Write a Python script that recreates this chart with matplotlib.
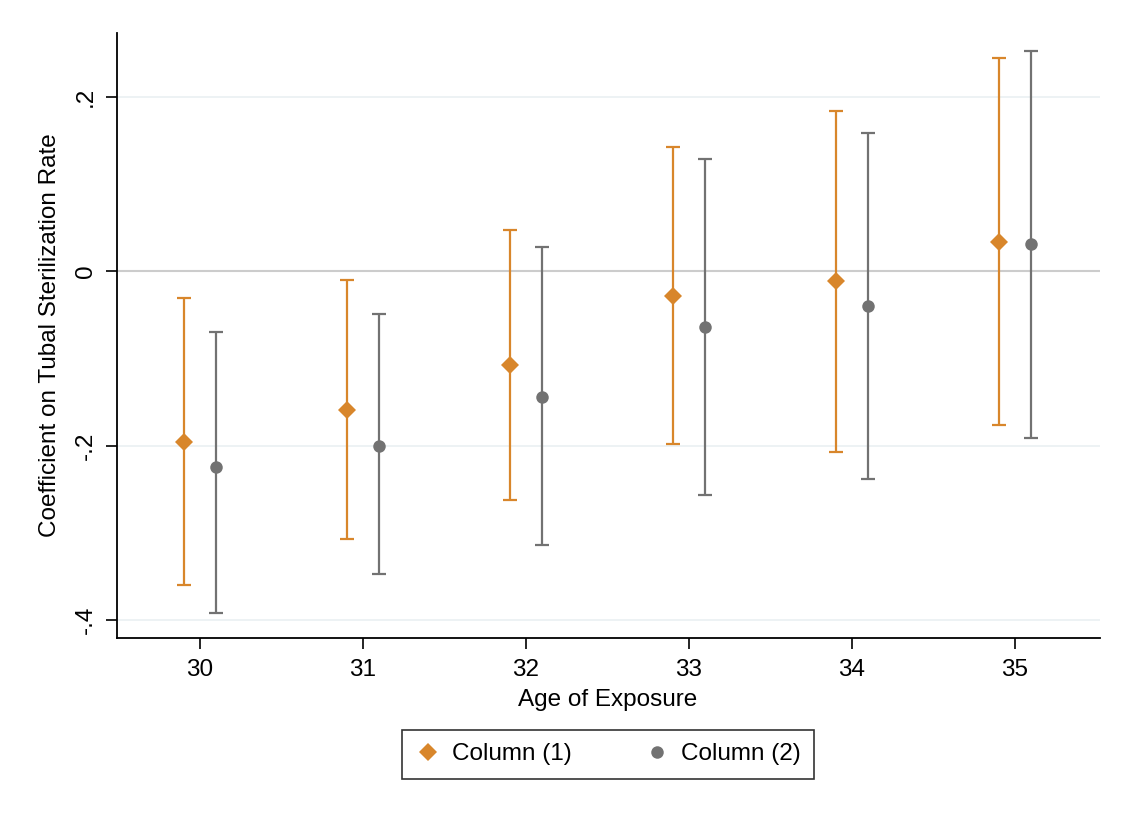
import matplotlib
matplotlib.use("Agg")
import matplotlib.pyplot as plt
import numpy as np

ORANGE = "#d8862b"
GRAY = "#727272"
GRID = "#eaf0f2"
ZERO = "#cccccc"

ages = [30, 31, 32, 33, 34, 35]

col1_coef = [-0.196, -0.159, -0.107, -0.028, -0.011, 0.034]
col1_lo = [-0.360, -0.307, -0.263, -0.198, -0.207, -0.176]
col1_hi = [-0.031, -0.010, 0.048, 0.143, 0.184, 0.245]

col2_coef = [-0.225, -0.200, -0.144, -0.064, -0.040, 0.031]
col2_lo = [-0.392, -0.348, -0.314, -0.257, -0.239, -0.191]
col2_hi = [-0.070, -0.049, 0.028, 0.129, 0.159, 0.253]

yticks = [-0.4, -0.2, 0, 0.2]
ytick_labels = ["-.4", "-.2", "0", ".2"]

FS = 17.5
plt.rcParams.update({"font.family": ["Liberation Sans", "DejaVu Sans"], "font.size": FS})

fig = plt.figure(figsize=(11.22, 8.21), dpi=100)
ax = fig.add_axes([0.104, 0.223, 0.876, 0.737])

for y in yticks:
    if y != 0:
        ax.axhline(y, color=GRID, linewidth=1.2, zorder=0)
ax.axhline(0, color=ZERO, linewidth=1.5, zorder=0)

x = np.array(ages, dtype=float)


def draw(xs, coef, lo, hi, color, marker, ms, label):
    coef = np.array(coef)
    err = [coef - np.array(lo), np.array(hi) - coef]
    ax.errorbar(xs, coef, yerr=err, fmt="none", ecolor=color, elinewidth=1.6,
                capsize=5, capthick=1.6, zorder=2)
    ax.plot(xs, coef, linestyle="none", marker=marker, markersize=ms,
            color=color, markeredgewidth=0, label=label, zorder=3)


draw(x - 0.1, col1_coef, col1_lo, col1_hi, ORANGE, "D", 9.5, "Column (1)")
draw(x + 0.1, col2_coef, col2_lo, col2_hi, GRAY, "o", 9, "Column (2)")

ax.set_xlim(29.49, 35.52)
ax.set_ylim(-0.421, 0.274)
ax.set_xticks(ages)
ax.set_xticklabels([str(a) for a in ages])
ax.set_yticks(yticks)
ax.set_yticklabels(ytick_labels, rotation=90, va="center")

for side in ["top", "right"]:
    ax.spines[side].set_visible(False)
for side in ["left", "bottom"]:
    ax.spines[side].set_linewidth(1.3)
    ax.spines[side].set_color("black")
ax.tick_params(axis="both", direction="out", length=8, width=1.2, colors="black", labelsize=FS)
ax.tick_params(axis="x", pad=7)
ax.tick_params(axis="y", pad=6)

ax.set_xlabel("Age of Exposure", fontsize=FS, labelpad=6)
ax.set_ylabel("Coefficient on Tubal Sterilization Rate", fontsize=FS, labelpad=10)

leg = ax.legend(loc="upper center", bbox_to_anchor=(0.5, -0.132), ncol=2,
                frameon=True, fancybox=False, edgecolor="black", fontsize=FS,
                handletextpad=0.5, columnspacing=3.0, borderpad=0.55, handlelength=1.0,
                markerscale=1.0)
leg.get_frame().set_linewidth(1.2)

fig.savefig("out.png", dpi=100, facecolor="white")
